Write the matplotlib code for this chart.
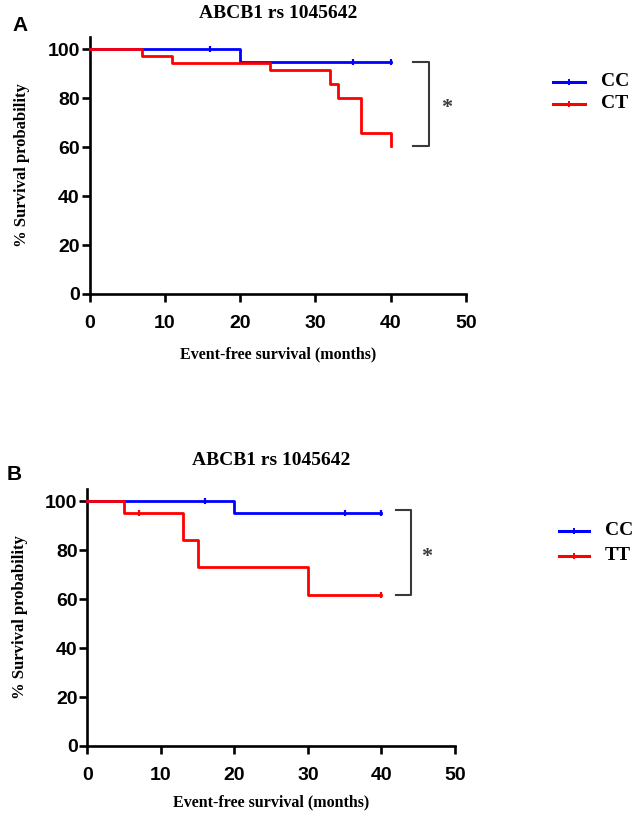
import matplotlib
matplotlib.use("Agg")
import matplotlib.pyplot as plt
from matplotlib.lines import Line2D

W, H = 635, 818
BLUE, RED, GREY = "#0000FF", "#FF0000", "#3A3A3A"
SANS = "Liberation Sans"
SERIF = "Liberation Serif"

TITLE = "ABCB1 rs 1045642"
XLABEL = "Event-free survival (months)"
YLABEL = "% Survival probability"
XTICKS = [0, 10, 20, 30, 40, 50]
YTICKS = [0, 20, 40, 60, 80, 100]

# panel A: Kaplan-Meier steps (time in months, % survival)
a_cc_t = [0, 20, 40]
a_cc_s = [100, 94.6, 94.6]
a_cc_cens_t = [16, 35, 40]
a_cc_cens_s = [100, 94.6, 94.6]
a_ct_t = [0, 7, 11, 24, 32, 33, 36, 40]
a_ct_s = [100, 97.1, 94.3, 91.4, 85.7, 80.0, 65.7, 60.6]
a_labels = ["CC", "CT"]

# panel B
b_cc_t = [0, 20, 40]
b_cc_s = [100, 95.3, 95.3]
b_cc_cens_t = [16, 35, 40]
b_cc_cens_s = [100, 95.3, 95.3]
b_tt_t = [0, 5, 13, 15, 30, 40]
b_tt_s = [100, 95.0, 84.2, 73.2, 61.6, 61.6]
b_tt_cens_t = [7, 40]
b_tt_cens_s = [95.0, 61.6]
b_labels = ["CC", "TT"]

fig = plt.figure(figsize=(W / 100, H / 100), dpi=100)


def px(x, y):
    return x / W, 1 - y / H


def make_axes(l, r, b, t):
    ax = fig.add_axes([l / W, 1 - b / H, (r - l) / W, (b - t) / H])
    ax.set_xlim(0, 50)
    ax.set_ylim(0, 105)
    ax.set_xticks(XTICKS)
    ax.set_yticks(YTICKS)
    for s in ("top", "right"):
        ax.spines[s].set_visible(False)
    for s in ("left", "bottom"):
        ax.spines[s].set_linewidth(1.9)
    ax.tick_params(axis="x", direction="out", length=6, width=1.9, pad=9)
    ax.tick_params(axis="y", direction="out", length=6, width=1.9, pad=1)
    for lab in ax.get_xticklabels() + ax.get_yticklabels():
        lab.set_fontfamily(SANS)
        lab.set_fontweight("bold")
        lab.set_fontsize(14)
    ax.set_xlabel(XLABEL, fontfamily=SERIF, fontweight="bold", fontsize=11.5)
    ax.set_ylabel(YLABEL, fontfamily=SERIF, fontweight="bold", fontsize=12)
    return ax


def km(ax, t, s, color, ct=None, cs=None):
    ax.plot(t, s, drawstyle="steps-post", color=color, lw=2.0, clip_on=False, zorder=3)
    if ct:
        ax.plot(ct, cs, "|", color=color, ms=5, mew=1.6, clip_on=False, zorder=3)


def bracket(ax, x0, x1, ytop, ybot, sx, sy):
    ax.plot([x0, x1, x1, x0], [ytop, ytop, ybot, ybot], color=GREY, lw=1.5, clip_on=False)
    ax.text(sx, sy, "*", ha="center", va="center", fontsize=16, fontfamily=SERIF,
            fontweight="bold", color=GREY, clip_on=False)


def legend(labels, colors, x0, x1, xt, ys):
    for lab, c, y in zip(labels, colors, ys):
        fig.add_artist(Line2D([px(x0, y)[0], px(x1, y)[0]], [px(x0, y)[1]] * 2,
                              transform=fig.transFigure, color=c, lw=2.2))
        fig.add_artist(Line2D([px((x0 + x1) / 2, y)[0]], [px(x0, y)[1]], marker="|",
                              ms=4, mew=1.4, transform=fig.transFigure, color=c))
        fig.text(*px(xt, y), lab, ha="left", va="center", fontsize=14,
                 fontfamily=SERIF, fontweight="bold")


# ---- panel A
axA = make_axes(89.5, 466, 294, 36.8)
km(axA, a_cc_t, a_cc_s, BLUE, a_cc_cens_t, a_cc_cens_s)
km(axA, a_ct_t, a_ct_s, RED)
axA.yaxis.set_label_coords(-0.158, 0.5)
axA.xaxis.set_label_coords(0.5, -0.205)
bracket(axA, 43.0, 45.1, 94.6, 60.6, 47.4, 76.0)
legend(a_labels, [BLUE, RED], 553, 585, 601, [81.7, 104])
fig.text(*px(278, 13.5), TITLE, ha="center", va="center", fontsize=14,
         fontfamily=SERIF, fontweight="bold")
fig.text(*px(20, 25.5), "A", ha="center", va="center", fontsize=15,
         fontfamily=SANS, fontweight="bold")

# ---- panel B
axB = make_axes(87.3, 455, 746, 488.8)
km(axB, b_cc_t, b_cc_s, BLUE, b_cc_cens_t, b_cc_cens_s)
km(axB, b_tt_t, b_tt_s, RED, b_tt_cens_t, b_tt_cens_s)
axB.yaxis.set_label_coords(-0.16, 0.5)
axB.xaxis.set_label_coords(0.5, -0.19)
bracket(axB, 42.0, 44.0, 96.3, 61.6, 46.2, 77.0)
legend(b_labels, [BLUE, RED], 559, 589, 605, [530.7, 556])
fig.text(*px(271, 461), TITLE, ha="center", va="center", fontsize=14,
         fontfamily=SERIF, fontweight="bold")
fig.text(*px(14, 474.5), "B", ha="center", va="center", fontsize=15,
         fontfamily=SANS, fontweight="bold")

fig.savefig("out.png", dpi=100)
